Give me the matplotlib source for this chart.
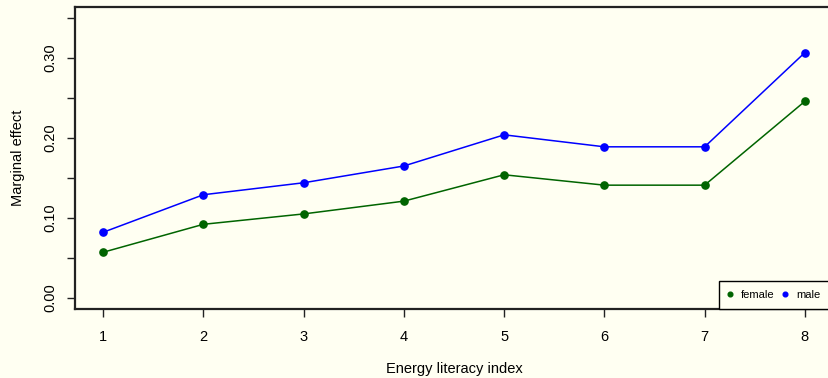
import matplotlib
matplotlib.use("Agg")
import matplotlib.pyplot as plt
from matplotlib.patches import Rectangle

# marginal effect by energy literacy index
literacy = [1, 2, 3, 4, 5, 6, 7, 8]
female = [0.057, 0.092, 0.105, 0.121, 0.154, 0.141, 0.141, 0.246]
male = [0.082, 0.129, 0.144, 0.165, 0.204, 0.189, 0.189, 0.307]
yticks = [0.00, 0.05, 0.10, 0.15, 0.20, 0.25, 0.30, 0.35]
ylabels = ["0.00", "", "0.10", "", "0.20", "", "0.30", ""]

bg = "#FFFFF2"
plt.rcParams['font.family'] = ['Liberation Sans', 'DejaVu Sans']

fig = plt.figure(figsize=(8.29, 3.78), dpi=100, facecolor=bg)
ax = fig.add_axes([75 / 829, 1 - 309 / 378, 758 / 829, 302 / 378])
ax.set_facecolor(bg)

ax.plot(literacy, female, color="darkgreen", lw=1.1, marker="o", ms=5.2, label="female")
ax.plot(literacy, male, color="blue", lw=1.1, marker="o", ms=5.2, label="male")

ax.set_xlim(0.72, 8.28)
ax.set_ylim(-0.014, 0.364)
ax.set_xticks(literacy)
ax.set_yticks(yticks)
ax.set_yticklabels(ylabels, rotation=90, va="center")
ax.tick_params(axis="both", length=6, width=1, labelsize=10.5, color="#222222")
ax.tick_params(axis="x", pad=9)
ax.tick_params(axis="y", pad=7)
for s in ax.spines.values():
    s.set_linewidth(1.6)
    s.set_color("#222222")

ax.set_xlabel("Energy literacy index", fontsize=10.5, labelpad=13)
ax.set_ylabel("Marginal effect", fontsize=10.5, labelpad=13)

# legend box like R's bottomright legend (its right side runs past the figure)
lx = (719 - 75) / 758
lh = 28 / 302
box = Rectangle((lx, 0), 1 - lx, lh, transform=ax.transAxes, facecolor=bg,
                edgecolor="black", lw=1, zorder=5, clip_on=False)
ax.add_patch(box)

leg = ax.legend(loc="center left", bbox_to_anchor=(lx, lh / 2), ncol=2,
                fontsize=8, frameon=False, borderaxespad=0,
                handlelength=0.4, handletextpad=0.8, columnspacing=0.75,
                markerscale=0.65, borderpad=0.8)
leg.set_zorder(6)
for h in leg.get_lines():
    h.set_linestyle("none")

fig.savefig("out.png", dpi=100, facecolor=bg)
